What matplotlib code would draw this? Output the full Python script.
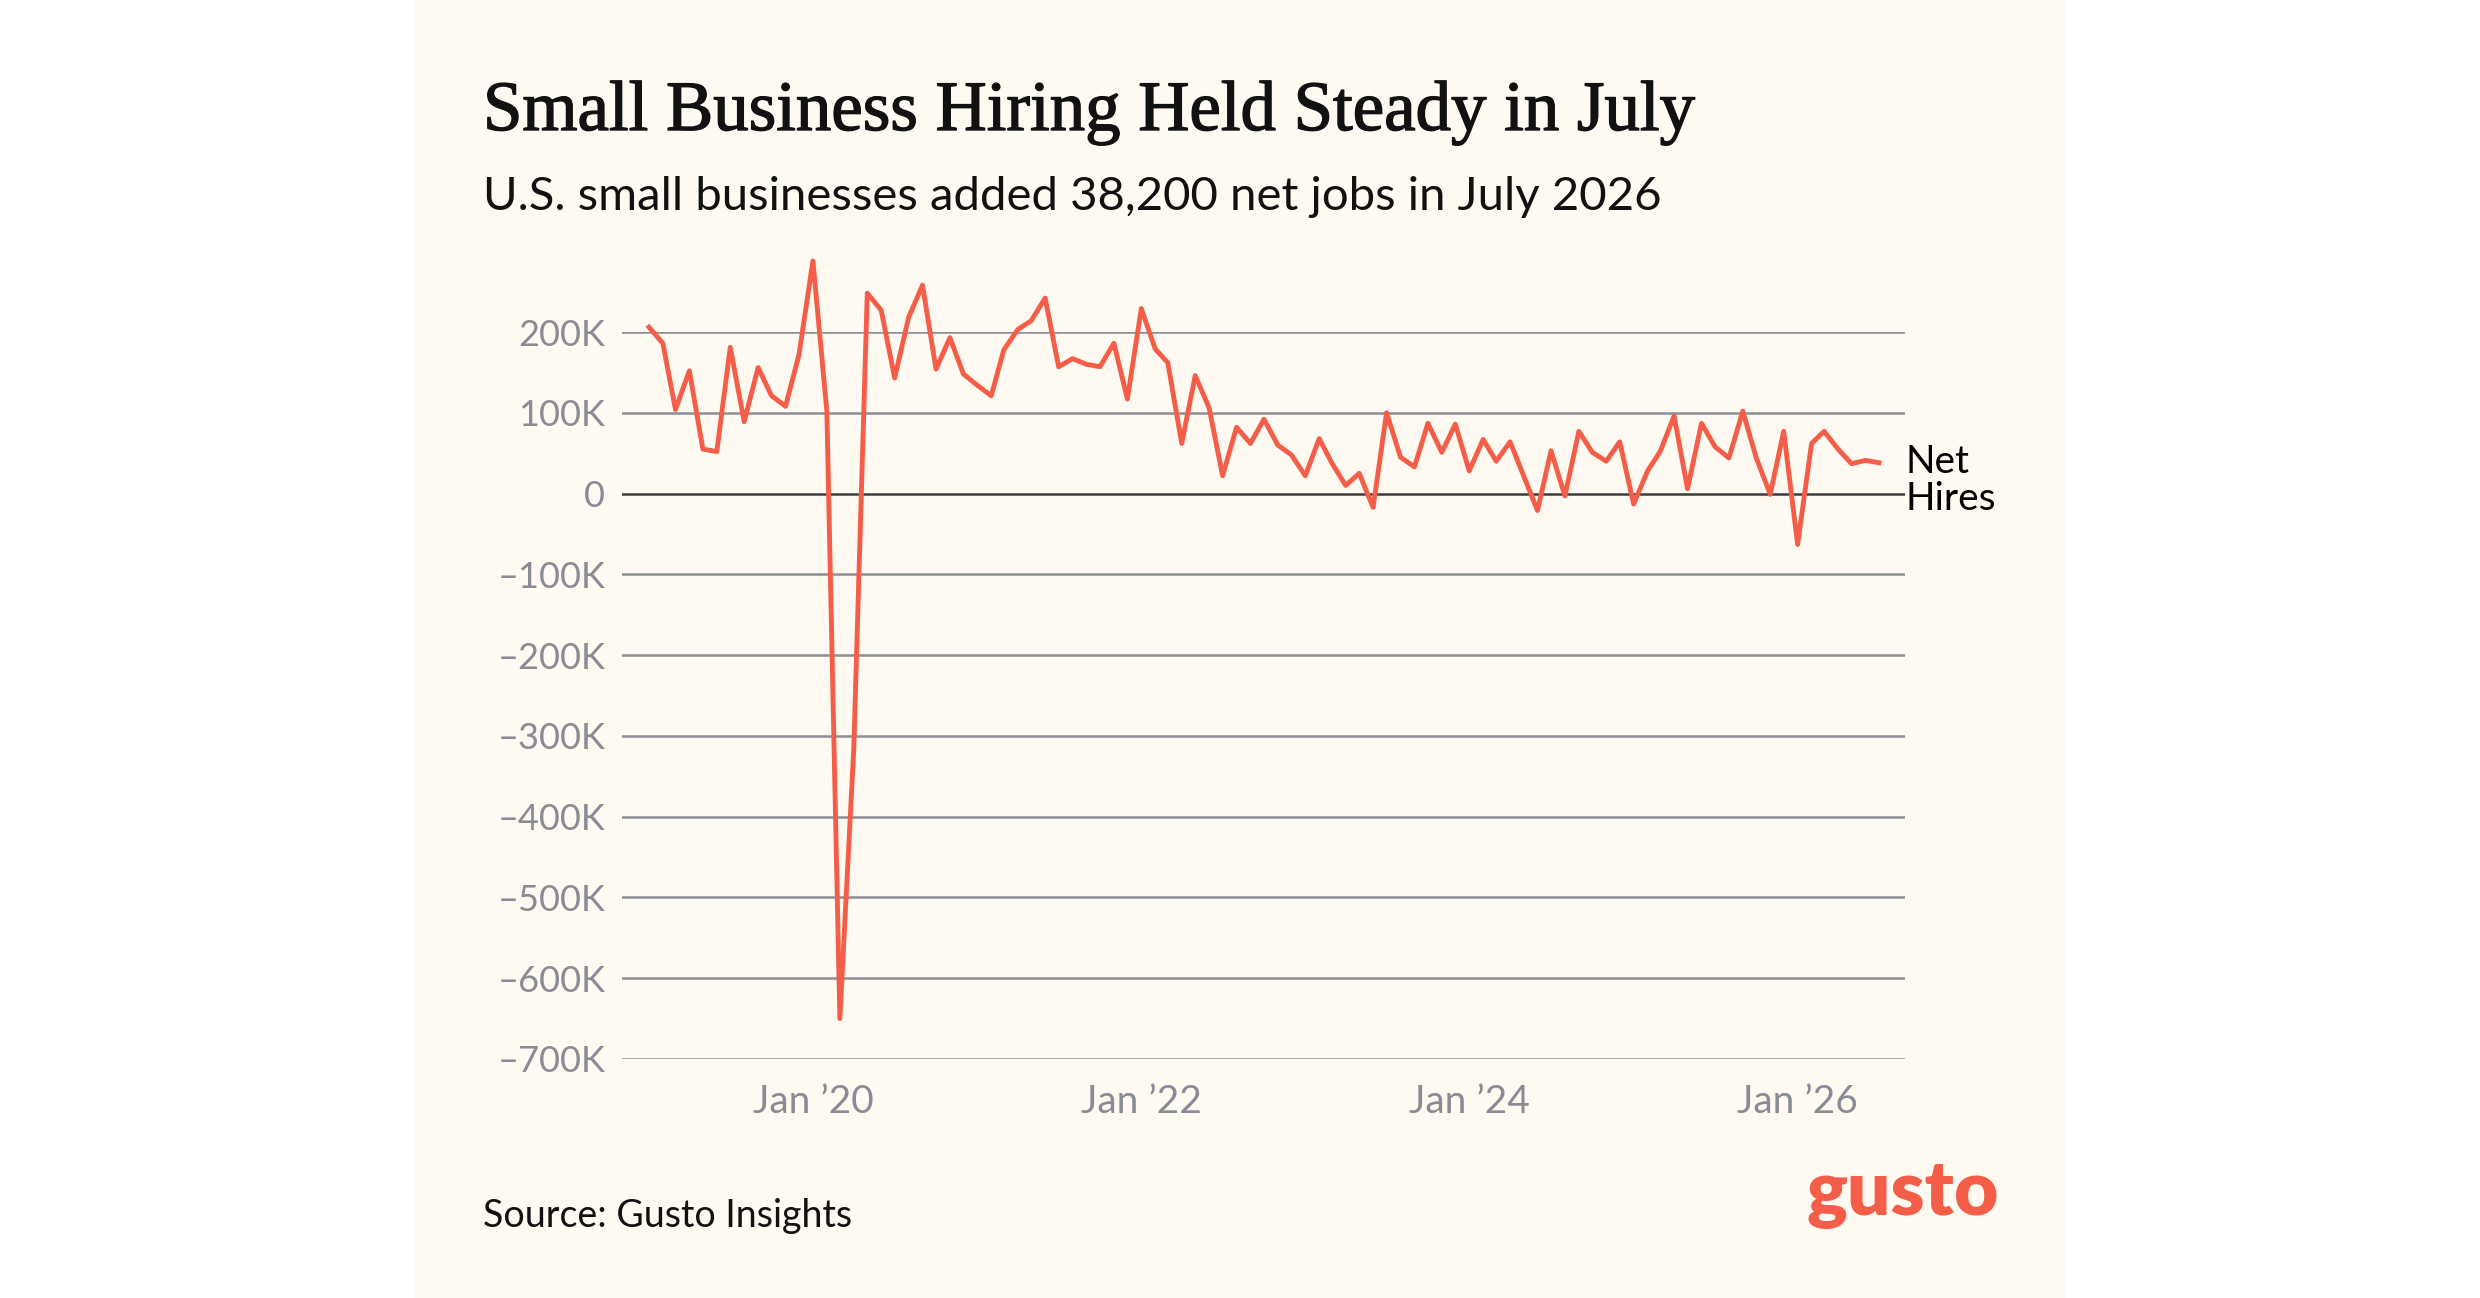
import matplotlib
matplotlib.use("Agg")
import matplotlib.pyplot as plt
import matplotlib.patheffects as pe
import pandas as pd
from matplotlib.patches import Rectangle

# monthly net hires, thousands (Jan 2019 .. Jul 2026)
NET_HIRES_K = [
    206, 186, 104, 152, 55, 52, 181, 89, 156, 121, 108, 172,      # 2019
    288, 102, -650, -315, 248, 227, 143, 218, 258, 154, 193, 148,  # 2020
    134, 121, 178, 203, 214, 242, 157, 167, 160, 157, 186, 117,    # 2021
    229, 179, 162, 62, 146, 106, 22, 82, 62, 92, 60, 48,           # 2022
    22, 68, 38, 10, 25, -17, 100, 45, 33, 87, 51, 86,              # 2023
    28, 67, 40, 64, 22, -21, 53, -3, 77, 51, 40, 64,               # 2024
    -13, 28, 52, 96, 6, 87, 58, 44, 102, 44, -1, 77,               # 2025
    -63, 62, 77, 55, 37, 41, 38.2,                                 # 2026
]
START_MONTH = "2019-01-01"
Y_TICKS_K = [200, 100, 0, -100, -200, -300, -400, -500, -600, -700]
X_TICK_DATES = ["2020-01-01", "2022-01-01", "2024-01-01", "2026-01-01"]
X_TICK_LABELS = ["Jan \u201920", "Jan \u201922", "Jan \u201924", "Jan \u201926"]

TITLE = "Small Business Hiring Held Steady in July"
SUBTITLE = "U.S. small businesses added 38,200 net jobs in July 2026"
SOURCE = "Source: Gusto Insights"

CORAL = "#F45D48"
CREAM = "#FEFAF2"
GRID = "#8E8F96"
TICK = "#8A8B94"
SANS = ["Lato", "DejaVu Sans"]

W, H = 2480, 1298
fig = plt.figure(figsize=(W / 100, H / 100), dpi=100)
fig.patch.set_facecolor("white")
fig.patches.append(Rectangle((415 / W, 0), (2065 - 415) / W, 1,
                             transform=fig.transFigure, facecolor=CREAM,
                             edgecolor="none", zorder=-10))

ax = fig.add_axes([622 / W, 1 - 1059 / H, (1905 - 622) / W, (1059 - 332) / H])
ax.patch.set_alpha(0)

dates = pd.date_range(START_MONTH, periods=len(NET_HIRES_K), freq="MS")
values = [v * 1000 for v in NET_HIRES_K]

for t in Y_TICKS_K:
    ax.axhline(t * 1000, color="#3C3C3C" if t == 0 else GRID, lw=1.8, zorder=1)

ax.plot(dates, values, color=CORAL, lw=3.5, clip_on=False, zorder=3)

ax.set_xlim(dates[0] - pd.Timedelta(days=60), dates[-1] + pd.Timedelta(days=58))
ax.set_ylim(-700000, 200000)

ax.set_yticks([t * 1000 for t in Y_TICKS_K])
ax.set_yticklabels([("\u2013" if t < 0 else "") + (f"{abs(t)}K" if t else "0")
                    for t in Y_TICKS_K])
ax.set_xticks(pd.to_datetime(X_TICK_DATES))
ax.set_xticklabels(X_TICK_LABELS)
ax.tick_params(axis="both", length=0, labelcolor=TICK)
ax.tick_params(axis="y", pad=12, labelsize=26)
ax.tick_params(axis="x", pad=18, labelsize=28)
for lab in ax.get_xticklabels() + ax.get_yticklabels():
    lab.set_family(SANS)
for s in ax.spines.values():
    s.set_visible(False)

ax.annotate("Net\nHires", xy=(dates[-1], values[-1]), xytext=(19, -13),
            textcoords="offset points", ha="left", va="center",
            fontsize=28, family=SANS, color="black", linespacing=1.05,
            annotation_clip=False)

fig.text(483 / W, 1 - 130 / H, TITLE, family=["Liberation Serif", "DejaVu Serif"],
         fontsize=51, color="#111111", va="baseline",
         path_effects=[pe.withStroke(linewidth=1.0, foreground="#111111")])
fig.text(483 / W, 1 - 210 / H, SUBTITLE, family=SANS, fontsize=34,
         color="#111111", va="baseline")
fig.text(483 / W, 1 - 1227 / H, SOURCE, family=SANS, fontsize=27,
         color="#111111", va="baseline")
fig.text(1999 / W, 1 - 1215 / H, "gusto", family=SANS, fontsize=55,
         fontweight="heavy", color=CORAL, ha="right", va="baseline")

fig.savefig("out.png", dpi=100)
